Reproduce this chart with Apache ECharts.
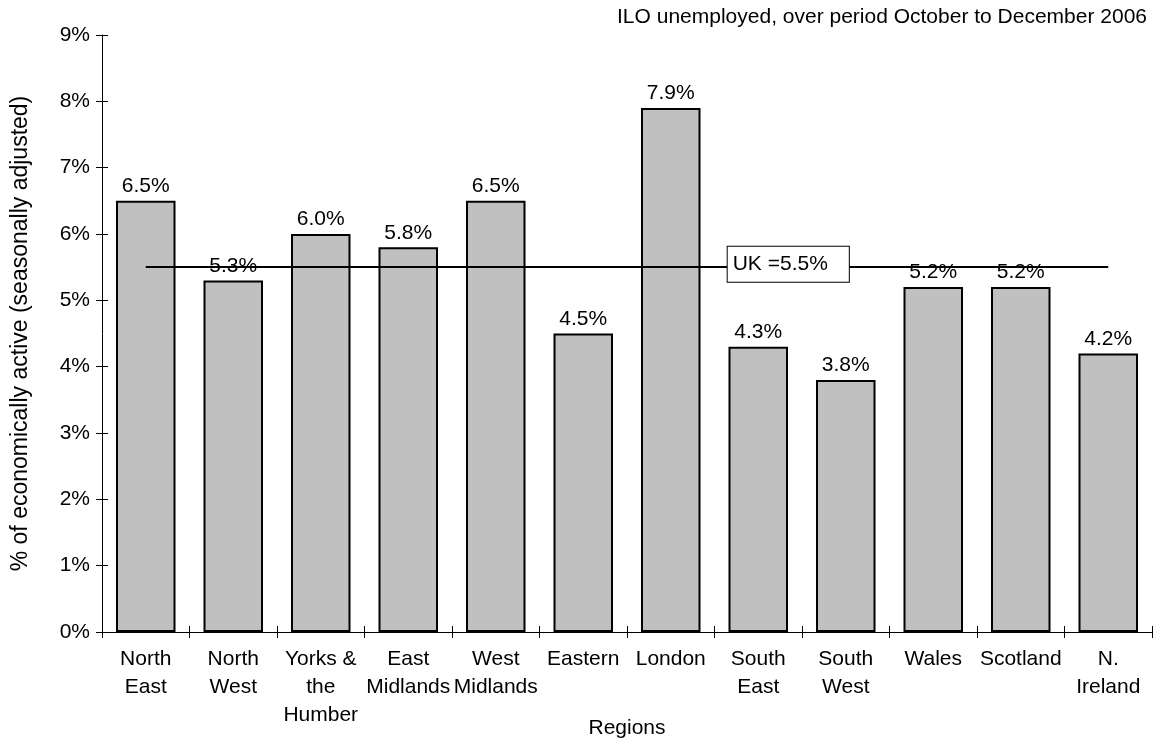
<!DOCTYPE html>
<html>
<head>
<meta charset="utf-8">
<script src="https://cdn.jsdelivr.net/npm/echarts@6/dist/echarts.min.js"></script>
<style>
  html, body { margin: 0; padding: 0; background: #fff; }
  #chart { width: 1154px; height: 738px; }
</style>
</head>
<body>
<div id="chart"></div>
<script>
// Regional ILO unemployment rates, Oct–Dec 2006
const regions = ['North\nEast', 'North\nWest', 'Yorks &\nthe\nHumber', 'East\nMidlands', 'West\nMidlands',
  'Eastern', 'London', 'South\nEast', 'South\nWest', 'Wales', 'Scotland', 'N.\nIreland'];
const rates = [6.5, 5.3, 6.0, 5.8, 6.5, 4.5, 7.9, 4.3, 3.8, 5.2, 5.2, 4.2];
const ukRate = 5.5;
const yTicks = [0, 1, 2, 3, 4, 5, 6, 7, 8, 9];

const FONT = "'Liberation Sans', Arial, sans-serif";
const FS = 21;

const chart = echarts.init(document.getElementById('chart'), null, { renderer: 'canvas' });

chart.setOption({
  animation: false,
  backgroundColor: '#fff',
  textStyle: { fontFamily: FONT, color: '#000' },
  title: {
    text: 'ILO unemployed, over period October to December 2006',
    right: 2, top: 2,
    textStyle: { fontFamily: FONT, fontSize: FS, fontWeight: 'normal', color: '#000' }
  },
  grid: { left: 102, right: 2, top: 35, bottom: 106, containLabel: false, outerBoundsMode: 'none' },
  xAxis: [{
    type: 'category',
    data: regions,
    name: 'Regions',
    nameLocation: 'middle',
    nameGap: 86,
    nameMoveOverlap: false,
    nameTextStyle: { fontFamily: FONT, fontSize: FS, color: '#000', verticalAlign: 'top' },
    axisLine: { lineStyle: { color: '#000', width: 1 } },
    axisTick: { show: true, inside: false, length: 6, alignWithLabel: false, lineStyle: { color: '#000' } },
    axisLabel: { fontFamily: FONT, fontSize: FS, color: '#000', lineHeight: 28, margin: 13, interval: 0 }
  }, {
    type: 'category',
    data: regions,
    position: 'bottom',
    axisLine: { show: false },
    axisTick: { show: true, inside: true, length: 6, lineStyle: { color: '#000' } },
    axisLabel: { show: false }
  }],
  yAxis: [{
    type: 'value',
    min: yTicks[0], max: yTicks[yTicks.length - 1], interval: 1,
    name: '% of economically active (seasonally adjusted)',
    nameLocation: 'middle',
    nameGap: 70,
    nameMoveOverlap: false,
    nameTextStyle: { fontFamily: FONT, fontSize: 23, color: '#000' },
    axisLine: { show: true, lineStyle: { color: '#000', width: 1 } },
    axisTick: { show: true, inside: false, length: 6, lineStyle: { color: '#000' } },
    axisLabel: { fontFamily: FONT, fontSize: FS, color: '#000', margin: 12, formatter: v => v + '%' },
    splitLine: { show: false }
  }, {
    type: 'value',
    min: yTicks[0], max: yTicks[yTicks.length - 1], interval: 1,
    position: 'left',
    axisLine: { show: false },
    axisTick: { show: true, inside: true, length: 6, lineStyle: { color: '#000' } },
    axisLabel: { show: false },
    splitLine: { show: false }
  }],
  series: [{
    type: 'bar',
    data: rates,
    barCategoryGap: '32%',
    itemStyle: { color: '#c0c0c0', borderColor: '#000', borderWidth: 2 },
    label: {
      show: true, position: 'top', distance: 4,
      fontFamily: FONT, fontSize: FS, color: '#000',
      formatter: p => p.value.toFixed(1) + '%'
    },
    markLine: {
      symbol: 'none',
      silent: true,
      z: 5,
      lineStyle: { color: '#000', width: 2, type: 'solid' },
      label: { show: false },
      data: [[
        { coord: [0, ukRate] },
        { coord: [regions.length - 1, ukRate] }
      ]]
    },
    markPoint: {
      symbol: 'rect',
      symbolSize: 0,
      silent: true,
      data: [{ coord: [7, ukRate] }],
      label: {
        show: true,
        position: 'inside',
        offset: [30, -3],
        formatter: 'UK =' + ukRate.toFixed(1) + '%',
        fontFamily: FONT, fontSize: FS, color: '#000',
        backgroundColor: '#fff',
        borderColor: '#000', borderWidth: 1,
        padding: [4, 21, 10, 5]
      }
    }
  }]
});
</script>
</body>
</html>
